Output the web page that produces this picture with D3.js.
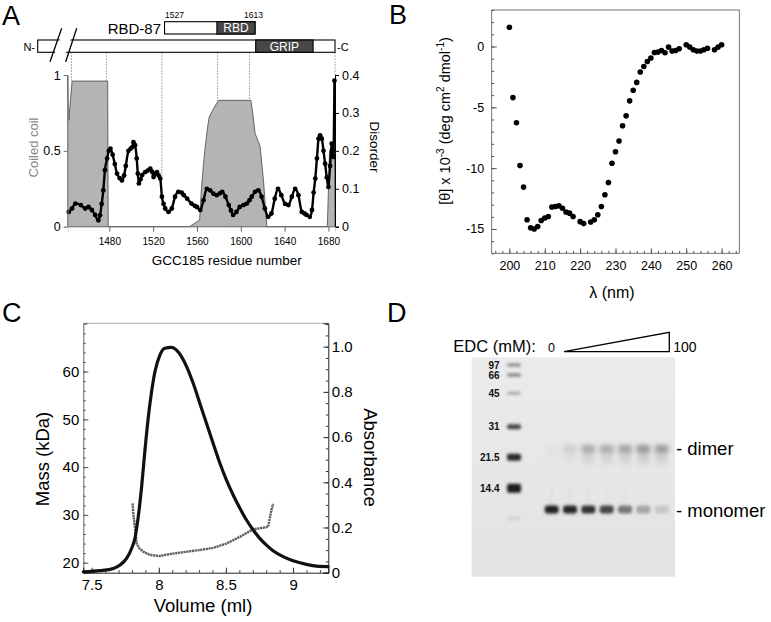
<!DOCTYPE html>
<html>
<head>
<meta charset="utf-8">
<script src="https://cdn.jsdelivr.net/npm/d3@7"></script>
<style>
  body { margin: 0; background: #fff; }
  svg { display: block; font-family: "Liberation Sans", Arial, Helvetica, sans-serif; }
</style>
</head>
<body>
<div id="fig"></div>
<script>
/***********************************************************************/
// panel A : coiled-coil prediction (grey area) and disorder (dots)
var ccResidue = [1442, 1442, 1443, 1446, 1478.5, 1479, 1553, 1562.4, 1564, 1566, 1567.5, 1569.7, 1571.2,
  1573.6, 1575.1, 1579.7, 1609.2, 1611, 1613.1, 1616.2, 1617.7, 1620.7, 1623.8, 1679, 1681, 1684, 1685.5, 1686];
var ccValue = [0, 1.0, 0.7, 0.96, 0.96, 0, 0, 0.044, 0.241, 0.417, 0.526, 0.658, 0.724,
  0.757, 0.779, 0.833, 0.833, 0.746, 0.614, 0.559, 0.526, 0.307, 0, 0, 0.5, 0.55, 0.5, 0];

var disResidue = [1443, 1446, 1449, 1454, 1458, 1461, 1464, 1467, 1470, 1471.5, 1473, 1474.5, 1476, 1478,
  1479.5, 1481, 1483, 1485, 1487, 1489.5, 1491.5, 1493.5, 1495, 1497.5, 1499.5, 1501, 1502, 1503.5, 1505,
  1506, 1507, 1508.5, 1510, 1512.8, 1515, 1517.4, 1519, 1520.4, 1522, 1523.5, 1525, 1526.5, 1528, 1529.5,
  1531, 1534, 1537, 1540, 1543, 1546, 1548, 1551, 1555, 1558, 1560, 1563, 1566, 1569, 1572, 1575, 1578,
  1581, 1583, 1586, 1589, 1591, 1593, 1596, 1599, 1602.5, 1605.5, 1608, 1610, 1613, 1616, 1619, 1622,
  1625, 1628, 1631, 1634, 1637, 1640.5, 1643.5, 1646.6, 1649.6, 1652.6, 1655.7, 1658, 1660, 1663, 1665,
  1666.5, 1668, 1669.5, 1671, 1672.4, 1674, 1675.5, 1677, 1678.5, 1680, 1681.5, 1683, 1684, 1684.5, 1685.5];
var disValue = [0.039, 0.048, 0.061, 0.057, 0.048, 0.052, 0.044, 0.031, 0.017, 0.03, 0.06, 0.096, 0.149, 0.18,
  0.2, 0.206, 0.19, 0.165, 0.14, 0.128, 0.122, 0.135, 0.16, 0.2, 0.206, 0.21, 0.223, 0.215, 0.18,
  0.14, 0.114, 0.125, 0.136, 0.144, 0.148, 0.153, 0.145, 0.131, 0.14, 0.144, 0.135, 0.127, 0.079, 0.06,
  0.048, 0.039, 0.048, 0.079, 0.092, 0.09, 0.083, 0.074, 0.061, 0.055, 0.052, 0.044, 0.07, 0.1, 0.096, 0.087, 0.083,
  0.088, 0.092, 0.079, 0.057, 0.043, 0.031, 0.039, 0.052, 0.057, 0.061, 0.07, 0.079, 0.092, 0.096, 0.079, 0.048,
  0.026, 0.035, 0.074, 0.1, 0.083, 0.06, 0.057, 0.079, 0.1, 0.083, 0.039, 0.035, 0.031, 0.026, 0.044,
  0.09, 0.127, 0.18, 0.232, 0.241, 0.232, 0.2, 0.166, 0.13, 0.105, 0.16, 0.219, 0.2, 0.184, 0.385];

var aTicks = [1480, 1520, 1560, 1600, 1640, 1680];
var ccTicks = [0, 0.5, 1];
var disTicks = [0, 0.1, 0.2, 0.3, 0.4];

// domain map of the construct (residues)
var barStart = 1414.6, proteinEnd = 1686;
var gripStart = 1613.6, gripEnd = 1666;
var rbdStart = 1530.4, rbdCore = 1578.2, rbdEnd = 1613;
var guideResidue = [1445.4, 1477.3, 1528, 1578.8, 1608, 1686];
var guideStop = [0.96, 0.96, 0.33, 0.83, 0.83, 1.0];

// panel B : CD spectrum
var cdWavelength = [200, 201, 202, 203, 204, 205, 206, 207, 208, 209, 210, 211, 212, 213, 214, 215, 216, 217, 218,
  220, 221, 223, 224, 225, 226, 227, 228, 229, 230, 231, 232, 233, 234, 235, 236, 237, 238, 239, 240, 241,
  242, 243, 244, 245, 246, 247, 248, 250, 251, 252, 253, 254, 255, 256, 258, 259, 260];
var cdTheta = [1.58, -4.2, -6.27, -9.79, -11.56, -14.24, -14.9, -15.0, -14.8, -14.3, -14.1, -13.97, -13.2, -13.15,
  -13.1, -13.3, -13.6, -13.7, -13.97,
  -14.4, -14.56, -14.43, -14.24, -13.83, -13.15, -12.19, -11.18, -9.6, -8.65, -7.77, -6.52, -5.7, -4.47, -3.6,
  -2.95, -2.1, -1.64, -1.23, -0.95, -0.49, -0.46, -0.33, -0.52, -0.05, -0.38, -0.33, -0.19, 0.14, -0.05,
  -0.27, -0.38, -0.38, -0.27, -0.14, -0.27, -0.05, 0.14];
var bXTicks = [200, 210, 220, 230, 240, 250, 260];
var bYTicks = [0, -5, -10, -15];

// panel C : SEC-MALS
var absVolume = [7.438, 7.562, 7.661, 7.711, 7.76, 7.798, 7.822, 7.847, 7.872, 7.897, 7.922, 7.946, 7.971, 8.008,
  8.045, 8.095, 8.132, 8.169, 8.207, 8.256, 8.306, 8.355, 8.405, 8.455, 8.504, 8.554, 8.604, 8.653, 8.703,
  8.752, 8.802, 8.851, 8.926, 9.0, 9.099, 9.174, 9.26];
var absValue = [0.004, 0.009, 0.019, 0.034, 0.063, 0.108, 0.152, 0.248, 0.381, 0.543, 0.69, 0.8, 0.889, 0.963,
  0.993, 0.997, 0.985, 0.956, 0.912, 0.838, 0.749, 0.661, 0.572, 0.484, 0.41, 0.344, 0.285, 0.233, 0.189,
  0.152, 0.122, 0.097, 0.071, 0.053, 0.037, 0.029, 0.027];
var massVolume = [7.805, 7.81, 7.817, 7.825, 7.835, 7.855, 7.884, 7.934, 8.008, 8.083, 8.182, 8.306, 8.405,
  8.504, 8.604, 8.703, 8.777, 8.814, 8.827, 8.839, 8.851];
var massKDa = [32.4, 30.3, 28.6, 26.5, 24.0, 23.0, 22.3, 21.6, 21.4, 21.8, 22.2, 22.65, 23.1,
  24.0, 25.4, 27.0, 27.3, 27.5, 29.3, 31.0, 32.3];
var cXTicks = [7.5, 8, 8.5, 9];
var massTicks = [20, 30, 40, 50, 60];
var absTicks = [0, 0.2, 0.4, 0.6, 0.8, 1.0];

// panel D : EDC cross-linking gel (migration as fraction of gel height, intensity 0-1)
var markerLabels = ["97", "66", "45", "31", "21.5", "14.4"];
var markerRf = [0.035, 0.081, 0.164, 0.316, 0.456, 0.597];
var markerIntensity = [0.45, 0.5, 0.3, 0.75, 0.88, 0.95];
var markerThick = [3, 3, 3, 5, 7, 9];
var lanes = [1, 2, 3, 4, 5, 6, 7];
var monomerIntensity = [0.92, 0.9, 0.85, 0.76, 0.52, 0.3, 0.14];
var dimerIntensity = [0.02, 0.12, 0.3, 0.3, 0.34, 0.4, 0.38];
var monomerRf = 0.694, dimerRf = 0.418;

/***********************************************************************/
var svg = d3.select("#fig").append("svg")
  .attr("width", 771)
  .attr("height", 622);
svg.append("rect").attr("width", 771).attr("height", 622).attr("fill", "#fff");

var defs = svg.append("defs");
defs.append("filter").attr("id", "blur").attr("x", "-50%").attr("y", "-100%").attr("width", "200%").attr("height", "300%")
  .append("feGaussianBlur").attr("stdDeviation", 1.5);
defs.append("filter").attr("id", "blur2").attr("x", "-50%").attr("y", "-100%").attr("width", "200%").attr("height", "300%")
  .append("feGaussianBlur").attr("stdDeviation", 2.4);
defs.append("filter").attr("id", "blur3").attr("x", "-50%").attr("y", "-100%").attr("width", "200%").attr("height", "300%")
  .append("feGaussianBlur").attr("stdDeviation", "2.5,4");
var gelGrad = defs.append("linearGradient").attr("id", "gelbg").attr("x1", 0).attr("y1", 0).attr("x2", 0).attr("y2", 1);
gelGrad.append("stop").attr("offset", 0).attr("stop-color", "#ebebeb");
gelGrad.append("stop").attr("offset", 1).attr("stop-color", "#e3e3e3");

function styleAxis(g, size, color) {
  g.attr("font-family", null).attr("font-size", size);
  g.selectAll("text").attr("fill", color || "#000");
  g.selectAll("line").attr("stroke", color || "#000");
}

// panel letters
[["A", 2, 25], ["B", 389, 24], ["C", 2, 322], ["D", 387, 322]].forEach(function(p) {
  svg.append("text").attr("x", p[1]).attr("y", p[2]).attr("font-size", 27).text(p[0]);
});

/***********************************************************************/
// panel A
var xA = d3.scaleLinear().domain([1442, 1686]).range([67.7, 335]);
var yCC = d3.scaleLinear().domain([0, 1]).range([226.7, 75]);
var yDis = d3.scaleLinear().domain([0, 0.4]).range([226.7, 75]);

var gA = svg.append("g");

// guide lines from the domain map down to the plot
gA.selectAll(".guide").data(guideResidue).enter().append("line")
  .attr("x1", d => xA(d)).attr("x2", d => xA(d))
  .attr("y1", 52.3).attr("y2", (d, i) => yCC(guideStop[i]))
  .attr("stroke", "#444").attr("stroke-width", 0.6).attr("stroke-dasharray", "1.5,1.5");

// protein bar
gA.append("rect").attr("x", xA(barStart)).attr("y", 40).attr("width", xA(proteinEnd) - xA(barStart)).attr("height", 12.3)
  .attr("fill", "#fff").attr("stroke", "#000").attr("stroke-width", 1.1);
gA.append("rect").attr("x", xA(gripStart)).attr("y", 40).attr("width", xA(gripEnd) - xA(gripStart)).attr("height", 12.3)
  .attr("fill", "#474747").attr("stroke", "#000").attr("stroke-width", 1.1);
gA.append("text").attr("x", (xA(gripStart) + xA(gripEnd)) / 2).attr("y", 50.5).attr("text-anchor", "middle")
  .attr("font-size", 12).attr("fill", "#fff").text("GRIP");
gA.append("text").attr("x", 35).attr("y", 50.5).attr("text-anchor", "end").attr("font-size", 11).text("N-");
gA.append("text").attr("x", 337).attr("y", 50.5).attr("font-size", 11).text("-C");

// break in the bar
gA.append("polygon").attr("points", "52,61 63.5,29 74.5,29 63,61").attr("fill", "#fff");
gA.append("line").attr("x1", 50).attr("y1", 61.7).attr("x2", 61.7).attr("y2", 28.3).attr("stroke", "#000").attr("stroke-width", 1.3);
gA.append("line").attr("x1", 65.7).attr("y1", 61.7).attr("x2", 76.7).attr("y2", 28.3).attr("stroke", "#000").attr("stroke-width", 1.3);

// RBD-87 construct
gA.append("rect").attr("x", xA(rbdStart)).attr("y", 21.7).attr("width", xA(rbdEnd) - xA(rbdStart)).attr("height", 12.3)
  .attr("fill", "#fff").attr("stroke", "#000").attr("stroke-width", 1.1);
gA.append("rect").attr("x", xA(rbdCore)).attr("y", 21.7).attr("width", xA(rbdEnd) - xA(rbdCore)).attr("height", 12.3)
  .attr("fill", "#474747").attr("stroke", "#000").attr("stroke-width", 1.1);
gA.append("text").attr("x", (xA(rbdCore) + xA(rbdEnd)) / 2).attr("y", 32.3).attr("text-anchor", "middle")
  .attr("font-size", 12).attr("fill", "#fff").text("RBD");
gA.append("text").attr("x", 161).attr("y", 33.5).attr("text-anchor", "end").attr("font-size", 15).text("RBD-87");
gA.append("text").attr("x", 165).attr("y", 18.3).attr("font-size", 8.5).text("1527");
gA.append("text").attr("x", 263).attr("y", 18.3).attr("text-anchor", "end").attr("font-size", 8.5).text("1613");

// coiled-coil area
var ccData = ccResidue.map((r, i) => [r, ccValue[i]]);
gA.append("path").datum(ccData)
  .attr("d", d3.area().x(d => xA(d[0])).y0(yCC(0)).y1(d => yCC(d[1])))
  .attr("fill", "#b4b4b4").attr("stroke", "#333").attr("stroke-width", 0.7);

// disorder
var disData = disResidue.map((r, i) => [r, disValue[i]]);
gA.append("path").datum(disData)
  .attr("d", d3.line().x(d => xA(d[0])).y(d => yDis(d[1])).curve(d3.curveMonotoneX))
  .attr("fill", "none").attr("stroke", "#000").attr("stroke-width", 2.4);
gA.selectAll(".dis").data(disData).enter().append("circle")
  .attr("cx", d => xA(d[0])).attr("cy", d => yDis(d[1])).attr("r", 2.4).attr("fill", "#000");

// axes
var aLeft = gA.append("g").attr("transform", "translate(67.7,0)")
  .call(d3.axisLeft(yCC).tickValues(ccTicks).tickFormat(d => d === 0.5 ? "0.5" : String(d)).tickSize(4).tickPadding(3));
styleAxis(aLeft, 12.5, "#000");
aLeft.selectAll("line").attr("stroke", "#777");
aLeft.select(".domain").attr("stroke", "#999").attr("stroke-width", 0.8);

var aRight = gA.append("g").attr("transform", "translate(335,0)")
  .call(d3.axisRight(yDis).tickValues(disTicks).tickFormat(d => d === 0 ? "0" : d3.format(".1f")(d)).tickSize(4).tickPadding(3));
styleAxis(aRight, 12.5, "#000");
aRight.select(".domain").attr("stroke", "#000").attr("stroke-width", 1);

var aBottom = gA.append("g").attr("transform", "translate(0,226.7)")
  .call(d3.axisBottom(xA).tickValues(aTicks).tickFormat(d3.format("d")).tickSize(5).tickPadding(6));
styleAxis(aBottom, 10, "#000");
aBottom.selectAll("line").attr("stroke", "#666");
aBottom.select(".domain").attr("stroke", "#bbb").attr("stroke-width", 0.6);

gA.append("text").attr("x", 226.7).attr("y", 265).attr("text-anchor", "middle").attr("font-size", 13.5)
  .text("GCC185 residue number");
gA.append("text").attr("transform", "translate(38.3,147.5) rotate(-90)").attr("text-anchor", "middle")
  .attr("font-size", 13).attr("fill", "#888").text("Coiled coil");
gA.append("text").attr("transform", "translate(370,147) rotate(90)").attr("text-anchor", "middle")
  .attr("font-size", 13.5).text("Disorder");

/***********************************************************************/
// panel B
var xB = d3.scaleLinear().domain([195, 265]).range([491.7, 739.3]);
var yB = d3.scaleLinear().domain([-17, 3]).range([253.3, 10]);
var gB = svg.append("g");

gB.append("rect").attr("x", 491.7).attr("y", 10).attr("width", 739.3 - 491.7).attr("height", 253.3 - 10)
  .attr("fill", "none").attr("stroke", "#555").attr("stroke-width", 0.8);

var bMinorY = gB.append("g").attr("transform", "translate(491.7,0)")
  .call(d3.axisLeft(yB).tickValues(d3.range(-17, 4, 1)).tickSize(-2.5).tickFormat(""));
bMinorY.select(".domain").remove();
bMinorY.selectAll("line").attr("stroke", "#555");
var bLeft = gB.append("g").attr("transform", "translate(491.7,0)")
  .call(d3.axisLeft(yB).tickValues(bYTicks).tickSize(-5).tickPadding(7.5).tickFormat(d => String(d)));
styleAxis(bLeft, 12.5, "#000");
bLeft.selectAll("line").attr("stroke", "#555");
bLeft.select(".domain").remove();

var bMinorX = gB.append("g").attr("transform", "translate(0,253.3)")
  .call(d3.axisBottom(xB).tickValues(d3.range(196, 265, 2)).tickSize(-2.5).tickFormat(""));
bMinorX.select(".domain").remove();
bMinorX.selectAll("line").attr("stroke", "#555");
var bBottom = gB.append("g").attr("transform", "translate(0,253.3)")
  .call(d3.axisBottom(xB).tickValues(bXTicks).tickSize(-5).tickPadding(8));
styleAxis(bBottom, 12.5, "#000");
bBottom.selectAll("line").attr("stroke", "#555");
bBottom.select(".domain").remove();

var cdData = cdWavelength.map((w, i) => [w, cdTheta[i]]);
gB.selectAll(".cd").data(cdData).enter().append("circle")
  .attr("cx", d => xB(d[0])).attr("cy", d => yB(d[1])).attr("r", 2.8).attr("fill", "#000");

gB.append("text").attr("x", 612).attr("y", 298).attr("text-anchor", "middle").attr("font-size", 16).text("\u03bb (nm)");
var bTitle = gB.append("text").attr("transform", "translate(449.5,121) rotate(-90)").attr("text-anchor", "middle")
  .attr("font-size", 14.5);
bTitle.append("tspan").text("[\u03b8] x 10");
bTitle.append("tspan").attr("dy", -5.5).attr("font-size", 10).text("-3");
bTitle.append("tspan").attr("dy", 5.5).text(" (deg cm");
bTitle.append("tspan").attr("dy", -5.5).attr("font-size", 10).text("2");
bTitle.append("tspan").attr("dy", 5.5).text(" dmol");
bTitle.append("tspan").attr("dy", -5.5).attr("font-size", 10).text("-1");
bTitle.append("tspan").attr("dy", 5.5).text(")");

/***********************************************************************/
// panel C
var xC = d3.scaleLinear().domain([7.4375, 9.2625]).range([83.3, 328.3]);
var yMass = d3.scaleLinear().domain([17.9, 70.1]).range([572.7, 323.3]);
var yAbs = d3.scaleLinear().domain([0, 1.1035]).range([572.7, 323.3]);
var gC = svg.append("g");

gC.append("line").attr("x1", 83.3).attr("x2", 328.3).attr("y1", 323.3).attr("y2", 323.3)
  .attr("stroke", "#aaa").attr("stroke-width", 1);

var cMinorL = gC.append("g").attr("transform", "translate(83.3,0)")
  .call(d3.axisLeft(yMass).tickValues(d3.range(18, 71, 2)).tickSize(-2.5).tickFormat(""));
cMinorL.select(".domain").remove();
cMinorL.selectAll("line").attr("stroke", "#555");
var cLeft = gC.append("g").attr("transform", "translate(83.3,0)")
  .call(d3.axisLeft(yMass).tickValues(massTicks).tickSize(-5).tickPadding(4));
styleAxis(cLeft, 15, "#000");
cLeft.selectAll("line").attr("stroke", "#555");
cLeft.select(".domain").attr("stroke", "#666").attr("stroke-width", 1);

var cMinorR = gC.append("g").attr("transform", "translate(328.3,0)")
  .call(d3.axisRight(yAbs).tickValues(d3.range(0, 23).map(v => v * 0.05)).tickSize(-2.5).tickFormat(""));
cMinorR.select(".domain").remove();
cMinorR.selectAll("line").attr("stroke", "#333");
var cRight = gC.append("g").attr("transform", "translate(328.3,0)")
  .call(d3.axisRight(yAbs).tickValues(absTicks).tickFormat(d => d === 0 ? "0" : d3.format(".1f")(d)).tickSize(-5).tickPadding(3.5));
styleAxis(cRight, 15, "#000");
cRight.selectAll("line").attr("stroke", "#333");
cRight.select(".domain").attr("stroke", "#222").attr("stroke-width", 1);

var cMinorB = gC.append("g").attr("transform", "translate(0,572.7)")
  .call(d3.axisBottom(xC).tickValues(d3.range(75, 93).map(v => v / 10)).tickSize(-2.5).tickFormat(""));
cMinorB.select(".domain").remove();
cMinorB.selectAll("line").attr("stroke", "#333");
var cBottom = gC.append("g").attr("transform", "translate(0,572.7)")
  .call(d3.axisBottom(xC).tickValues(cXTicks).tickSize(-5).tickPadding(6.5).tickFormat(d => String(d)));
styleAxis(cBottom, 15, "#000");
cBottom.selectAll("line").attr("stroke", "#333");
cBottom.select(".domain").attr("stroke", "#222").attr("stroke-width", 1);

var massData = massVolume.map((v, i) => [v, massKDa[i]]);
gC.append("path").datum(massData)
  .attr("d", d3.line().x(d => xC(d[0])).y(d => yMass(d[1])))
  .attr("fill", "none").attr("stroke", "#5e5e5e").attr("stroke-width", 2.4).attr("stroke-dasharray", "2.2,0.6");

var absData = absVolume.map((v, i) => [v, absValue[i]]);
gC.append("path").datum(absData)
  .attr("d", d3.line().x(d => xC(d[0])).y(d => yAbs(d[1])).curve(d3.curveMonotoneX))
  .attr("fill", "none").attr("stroke", "#111").attr("stroke-width", 3.2).attr("stroke-linecap", "round");

gC.append("text").attr("x", 203).attr("y", 611.5).attr("text-anchor", "middle").attr("font-size", 18.5).text("Volume (ml)");
gC.append("text").attr("transform", "translate(49,459) rotate(-90)").attr("text-anchor", "middle")
  .attr("font-size", 18.5).text("Mass (kDa)");
gC.append("text").attr("transform", "translate(363.5,457.5) rotate(90)").attr("text-anchor", "middle")
  .attr("font-size", 18.5).text("Absorbance");

/***********************************************************************/
// panel D
var gelTop = 357.3, gelBottom = 576.7, gelLeft = 471.7, gelRight = 675;
var yGel = d3.scaleLinear().domain([0, 1]).range([gelTop, gelBottom]);
var xLane = d3.scalePoint().domain(lanes).range([551.7, 661.7]);
var ladderX = 514;
var shade = d3.scaleLinear().domain([0, 1]).range(["#e6e6e6", "#111"]);
var gD = svg.append("g");

gD.append("rect").attr("x", gelLeft).attr("y", gelTop).attr("width", gelRight - gelLeft).attr("height", gelBottom - gelTop)
  .attr("fill", "url(#gelbg)");

// marker ladder
gD.selectAll(".marker").data(markerRf).enter().append("rect")
  .attr("x", ladderX - 7).attr("width", 14)
  .attr("y", (d, i) => yGel(d) - markerThick[i] / 2).attr("height", (d, i) => markerThick[i])
  .attr("rx", 2).attr("fill", (d, i) => shade(markerIntensity[i])).attr("filter", "url(#blur)");
gD.append("rect").attr("x", ladderX - 6).attr("width", 12).attr("y", yGel(0.734) - 2).attr("height", 4)
  .attr("fill", shade(0.1)).attr("filter", "url(#blur)");
gD.selectAll(".mlabel").data(markerLabels).enter().append("text")
  .attr("x", 499.5).attr("y", (d, i) => yGel(markerRf[i]) + 3.6)
  .attr("text-anchor", "end").attr("font-size", 10).attr("font-weight", "bold").attr("fill", "#111").text(d => d);

// dimer smear and band
gD.selectAll(".smear").data(lanes).enter().append("rect")
  .attr("x", d => xLane(d) - 6).attr("width", 12)
  .attr("y", yGel(dimerRf)).attr("height", 14)
  .attr("fill", (d, i) => shade(dimerIntensity[i] * 0.32)).attr("filter", "url(#blur3)");
gD.selectAll(".dimer").data(lanes).enter().append("rect")
  .attr("x", d => xLane(d) - 6.5).attr("width", 13)
  .attr("y", yGel(dimerRf) - 3.5).attr("height", 7)
  .attr("fill", (d, i) => shade(dimerIntensity[i])).attr("filter", "url(#blur2)");

// faint streaks above the monomer
gD.selectAll(".streak").data(lanes).enter().append("rect")
  .attr("x", d => xLane(d) - 1).attr("width", 2)
  .attr("y", yGel(0.6)).attr("height", yGel(monomerRf) - yGel(0.6))
  .attr("fill", (d, i) => shade(monomerIntensity[i] * 0.05)).attr("filter", "url(#blur)");

// monomer band
gD.selectAll(".monomer").data(lanes).enter().append("rect")
  .attr("x", d => xLane(d) - 7).attr("width", 14)
  .attr("y", yGel(monomerRf) - 4).attr("height", 8).attr("rx", 3)
  .attr("fill", (d, i) => shade(monomerIntensity[i])).attr("filter", "url(#blur)");

gD.append("text").attr("x", 676).attr("y", yGel(dimerRf) + 6).attr("font-size", 18.5).text("- dimer");
gD.append("text").attr("x", 676).attr("y", yGel(monomerRf) + 7).attr("font-size", 18.5).text("- monomer");

gD.append("text").attr("x", 453.3).attr("y", 351.7).attr("font-size", 16.5).text("EDC (mM):");
gD.append("text").attr("x", 548).attr("y", 351.7).attr("font-size", 12.5).text("0");
gD.append("polygon").attr("points", "564,351.7 669.3,332.3 669.3,351.7")
  .attr("fill", "#fff").attr("stroke", "#000").attr("stroke-width", 1.3);
gD.append("text").attr("x", 673.3).attr("y", 351.7).attr("font-size", 14).text("100");
/***********************************************************************/
</script>
</body>
</html>
